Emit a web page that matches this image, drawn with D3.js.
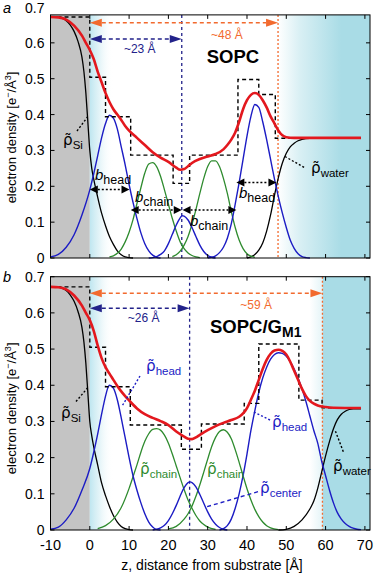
<!DOCTYPE html>
<html><head><meta charset="utf-8">
<script src="https://cdn.jsdelivr.net/npm/d3@7"></script>
<style>body{margin:0;background:#fff}svg{display:block}text{font-family:"Liberation Sans",Arial,Helvetica,sans-serif}</style>
</head><body><svg id="c" width="375" height="573"></svg>
<script>
// ---------- axes ----------
const X_TICKS = [-10, 0, 10, 20, 30, 40, 50, 60, 70];
const X_TICK_LABELS = ["-10", "0", "10", "20", "30", "40", "50", "60", "70"];
const Y_TICKS = [0, 0.1, 0.2, 0.3, 0.4, 0.5, 0.6, 0.7];
const Y_TICK_LABELS = ["0", "0.1", "0.2", "0.3", "0.4", "0.5", "0.6", "0.7"];

// ---------- panel a (SOPC) : [z, density] ----------
const A_SI = [[-10,0.672],[-8,0.671],[-7,0.668],[-6,0.662],[-5,0.65],[-4,0.632],[-3,0.604],[-2,0.56],[-1.5,0.52],[-1,0.46],[-0.5,0.38],[0,0.3],[0.5,0.25],[1,0.22],[2,0.17],[3,0.125],[4,0.09],[5,0.06],[6,0.038],[7,0.02],[8,0.009],[9,0.003],[10,0.001],[11,0]];
const A_WATER = [[40,0],[41,0.003],[42,0.01],[43,0.022],[44,0.042],[45,0.075],[46,0.12],[47,0.175],[48,0.225],[49,0.265],[50,0.292],[51,0.31],[52,0.32],[53,0.327],[54,0.331],[56,0.334],[69,0.335]];
const A_HEAD1 = [[-10,0.003],[-8,0.01],[-6,0.03],[-4,0.065],[-2,0.12],[0,0.19],[1,0.235],[2,0.285],[3,0.335],[4,0.375],[5,0.398],[6,0.39],[7,0.36],[8,0.31],[9,0.26],[10,0.205],[11,0.155],[12,0.11],[13,0.07],[14,0.04],[15,0.02],[16,0.008],[17,0.002],[18,0]];
const A_HEAD2 = [[30,0],[31,0.002],[32,0.006],[33,0.015],[34,0.03],[35,0.055],[36,0.095],[37,0.15],[38,0.21],[39,0.275],[40,0.34],[41,0.395],[42,0.428],[43,0.42],[44,0.38],[45,0.33],[46,0.275],[47,0.22],[48,0.17],[49,0.125],[50,0.085],[51,0.05],[52,0.027],[53,0.012],[54,0.004],[55,0.001],[56,0]];
const A_CENTER = [[15,0],[16,0.001],[17,0.004],[18,0.01],[19,0.02],[20,0.04],[21,0.066],[22,0.092],[23,0.112],[23.5,0.118],[24,0.117],[25,0.106],[26,0.085],[27,0.06],[28,0.036],[29,0.018],[30,0.007],[31,0.002],[32,0]];
const A_CHAIN1 = [[5,0.003],[6,0.006],[7,0.013],[8,0.025],[9,0.045],[10,0.072],[11,0.107],[12,0.152],[13,0.196],[14,0.237],[15,0.262],[16,0.266],[17,0.255],[18,0.228],[19,0.19],[20,0.15],[21,0.11],[22,0.075],[23,0.045],[24,0.026],[25,0.014],[26,0.007],[27,0.003],[28,0.001]];
const A_CHAIN2 = [[21,0.004],[22,0.009],[23,0.019],[24,0.036],[25,0.06],[26,0.094],[27,0.135],[28,0.18],[29,0.222],[30,0.255],[31,0.271],[32,0.271],[33,0.255],[34,0.222],[35,0.18],[36,0.13],[37,0.085],[38,0.05],[39,0.026],[40,0.012],[41,0.005],[42,0.002]];
const A_TOTAL = [[-10,0.672],[-8,0.671],[-6,0.665],[-4,0.648],[-2,0.62],[-1,0.60],[0,0.58],[1,0.555],[2,0.52],[3,0.49],[4,0.46],[5,0.435],[6,0.415],[7,0.40],[8,0.385],[9,0.368],[10,0.355],[12,0.335],[14,0.315],[16,0.295],[18,0.28],[20,0.268],[22,0.252],[23,0.246],[24,0.248],[25,0.256],[26,0.265],[28,0.276],[30,0.283],[32,0.29],[34,0.303],[35,0.315],[36,0.33],[37,0.35],[38,0.38],[39,0.415],[40,0.44],[41,0.455],[42,0.46],[43,0.455],[44,0.44],[45,0.42],[46,0.395],[47,0.375],[48,0.355],[49,0.342],[50,0.337],[52,0.335],[69,0.335]];
const A_STEP = [[-10,0.672],[0,0.504],[4,0.394],[10.4,0.287],[21.2,0.208],[25.4,0.287],[37.7,0.498],[43,0.456],[47.2,0.334],[69,0.334]];
const A_CENTER_Z = 23.4, A_EDGE_Z = 47.9;

// ---------- panel b (SOPC/GM1) ----------
const B_SI = [[-10,0.672],[-8,0.671],[-7,0.668],[-6,0.662],[-5,0.65],[-4,0.632],[-3,0.604],[-2,0.56],[-1.5,0.52],[-1,0.46],[-0.5,0.38],[0,0.3],[0.5,0.26],[1,0.23],[2,0.18],[3,0.13],[4,0.095],[5,0.065],[6,0.04],[7,0.022],[8,0.01],[9,0.004],[10,0.001],[11,0]];
const B_WATER = [[48,0],[50,0.002],[52,0.01],[54,0.028],[56,0.058],[57,0.08],[58,0.115],[59,0.16],[60,0.205],[61,0.245],[62,0.28],[63,0.305],[64,0.32],[65,0.328],[66,0.333],[67,0.335],[69,0.335]];
const B_HEAD1 = [[-10,0.002],[-8,0.008],[-6,0.028],[-4,0.06],[-2,0.11],[0,0.17],[1,0.215],[2,0.265],[3,0.32],[4,0.37],[4.5,0.39],[5,0.40],[6,0.392],[7,0.36],[8,0.31],[9,0.255],[10,0.2],[11,0.15],[12,0.11],[13,0.075],[14,0.045],[15,0.022],[16,0.008],[17,0.001],[18,0]];
const B_HEAD2 = [[33,0],[34,0.004],[35,0.012],[36,0.03],[37,0.06],[38,0.1],[39,0.15],[40,0.21],[41,0.275],[42,0.33],[43,0.38],[44,0.42],[45,0.45],[46,0.472],[47,0.485],[48,0.49],[49,0.488],[50,0.48],[51,0.465],[52,0.445],[53,0.42],[54,0.39],[55,0.355],[56,0.315],[57,0.275],[58,0.24],[59,0.19],[60,0.15],[61,0.11],[62,0.075],[63,0.048],[64,0.03],[65,0.018],[66,0.01],[67,0.005],[68,0.002],[69,0.001]];
const B_CENTER = [[16,0],[17,0.002],[18,0.006],[19,0.013],[20,0.026],[21,0.045],[22,0.068],[23,0.094],[24,0.117],[25,0.131],[25.5,0.133],[26,0.131],[27,0.119],[28,0.098],[29,0.074],[30,0.05],[31,0.03],[32,0.016],[33,0.007],[34,0.002],[35,0]];
const B_CHAIN1 = [[2,0.004],[4,0.012],[6,0.03],[8,0.062],[10,0.115],[11,0.147],[12,0.18],[13,0.215],[14,0.245],[15,0.266],[16,0.278],[17,0.28],[18,0.276],[19,0.262],[20,0.24],[21,0.21],[22,0.177],[23,0.144],[24,0.112],[25,0.083],[26,0.06],[27,0.04],[28,0.025],[29,0.015],[30,0.008],[32,0.002]];
const B_CHAIN2 = [[20,0.003],[22,0.01],[24,0.03],[25,0.045],[26,0.066],[27,0.093],[28,0.125],[29,0.16],[30,0.196],[31,0.23],[32,0.256],[33,0.272],[34,0.277],[35,0.27],[36,0.252],[37,0.222],[38,0.187],[39,0.15],[40,0.114],[41,0.083],[42,0.057],[43,0.037],[44,0.022],[45,0.012],[46,0.006],[48,0.001]];
const B_TOTAL = [[-10,0.672],[-8,0.671],[-6,0.665],[-4,0.648],[-2,0.62],[-1,0.60],[0,0.58],[1,0.55],[2,0.51],[3,0.475],[4,0.45],[5,0.432],[6,0.415],[7,0.398],[8,0.383],[9,0.37],[10,0.358],[12,0.336],[14,0.32],[16,0.31],[18,0.301],[20,0.29],[22,0.272],[24,0.258],[25,0.252],[26,0.251],[27,0.256],[28,0.263],[30,0.276],[32,0.287],[34,0.296],[36,0.304],[38,0.313],[39,0.322],[40,0.337],[41,0.36],[42,0.385],[43,0.415],[44,0.445],[45,0.47],[46,0.487],[47,0.496],[48,0.498],[49,0.495],[50,0.485],[51,0.465],[52,0.44],[53,0.415],[54,0.39],[55,0.37],[56,0.357],[57,0.349],[58,0.344],[60,0.34],[62,0.338],[69,0.337]];
const B_STEP = [[-10,0.672],[0,0.505],[4,0.396],[10.3,0.29],[23.3,0.223],[28.4,0.293],[39.3,0.35],[43,0.514],[53.2,0.359],[59.1,0.338],[69,0.338]];
const B_CENTER_Z = 25.4, B_EDGE_Z = 59.2;

// ---------- drawing ----------
const svg = d3.select("#c");
const defs = svg.append("defs");
const x = d3.scaleLinear().domain([-10, 71.3]).range([50.5, 370]);
const C = {red:"#e3181e", blue:"#1c1cc4", green:"#2e8b2e", navy:"#22228a", orange:"#f26a2e", water:"#a9dce6", gray:"#c4c4c4"};

function grad(id, x1, x2, stops) {
  const lg = defs.append("linearGradient").attr("id", id).attr("gradientUnits", "userSpaceOnUse")
    .attr("x1", x1).attr("x2", x2).attr("y1", 0).attr("y2", 0);
  stops.forEach(s => lg.append("stop").attr("offset", s[0]).attr("stop-color", s[1]).attr("stop-opacity", s[2]));
}
function arrowHead(g, tipX, yy, dir, len, half, color) {
  g.append("path").attr("d", `M${tipX},${yy} L${tipX - dir*len},${yy-half} L${tipX - dir*len},${yy+half} Z`).attr("fill", color);
}
function dblArrow(g, x1, x2, yy, color, dash, len, half, w) {
  g.append("line").attr("x1", x1 + len).attr("x2", x2 - len).attr("y1", yy).attr("y2", yy)
    .attr("stroke", color).attr("stroke-width", w).attr("stroke-dasharray", dash);
  arrowHead(g, x1, yy, -1, len, half, color);
  arrowHead(g, x2, yy, 1, len, half, color);
}
// rho with combining tilde and subscript, one text element
function rho(g, px, py, sub, color, size) {
  const t = g.append("text").attr("x", px).attr("y", py).attr("fill", color).attr("font-size", size);
  t.append("tspan").attr("font-family", "'DejaVu Sans', sans-serif").attr("font-size", size * 0.95).text("ρ\u0303");
  t.append("tspan").attr("font-size", size*0.72).attr("dy", size*0.25).text(sub);
}
function bLabel(g, px, py, sub) {
  const t = g.append("text").attr("x", px).attr("y", py).attr("font-size", 15);
  t.append("tspan").attr("font-style", "italic").text("b");
  t.append("tspan").attr("font-size", 12.5).attr("dy", 3.5).text(sub);
}
function leader(g, pts, color, dash) {
  g.append("path").attr("d", d3.line()(pts)).attr("fill", "none").attr("stroke", color)
    .attr("stroke-width", 1.4).attr("stroke-dasharray", dash);
}

function panel(o) {
  const y = d3.scaleLinear().domain([0, 0.7]).range([o.y0, o.y7]);
  const T = y(o.ymax), B = y(0), L = x(-10), R = x(71.3);
  const g = svg.append("g");
  const line = d3.line().x(d => x(d[0])).y(d => y(d[1])).curve(d3.curveMonotoneX);
  const step = d3.line().x(d => x(d[0])).y(d => y(d[1])).curve(d3.curveStepAfter);

  g.append("rect").attr("x", L).attr("y", T).attr("width", x(0) - L).attr("height", B - T).attr("fill", C.gray);
  grad("lg" + o.id, x(0), x(6), [[0, "#bfe6f0", 1], [0.4, "#dcf1f6", 0.8], [1, "#ffffff", 0]]);
  g.append("rect").attr("x", x(0)).attr("y", T).attr("width", x(6) - x(0)).attr("height", B - T).attr("fill", `url(#lg${o.id})`);
  grad("wg" + o.id, x(o.waterFrom), x(o.waterFull), o.waterStops);
  g.append("rect").attr("x", x(o.waterFrom)).attr("y", T).attr("width", R - x(o.waterFrom)).attr("height", B - T).attr("fill", `url(#wg${o.id})`);

  g.append("line").attr("x1", x(o.centerZ)).attr("x2", x(o.centerZ)).attr("y1", T).attr("y2", B)
    .attr("stroke", C.navy).attr("stroke-width", 1.3).attr("stroke-dasharray", "3,3");
  g.append("line").attr("x1", x(o.edgeZ)).attr("x2", x(o.edgeZ)).attr("y1", T).attr("y2", B)
    .attr("stroke", C.orange).attr("stroke-width", 1.3).attr("stroke-dasharray", "2,2");

  const curves = [[o.si, "#000", 1.3], [o.water, "#000", 1.3], [o.chain1, C.green, 1.3], [o.chain2, C.green, 1.3],
    [o.head1, C.blue, 1.4], [o.head2, C.blue, 1.4], [o.center, C.blue, 1.4]];
  curves.forEach(c => g.append("path").attr("d", line(c[0])).attr("fill", "none").attr("stroke", c[1]).attr("stroke-width", c[2]));
  g.append("path").attr("d", step(o.step)).attr("fill", "none").attr("stroke", "#000").attr("stroke-width", 1.4).attr("stroke-dasharray", "4,3");
  g.append("path").attr("d", line(o.total)).attr("fill", "none").attr("stroke", C.red).attr("stroke-width", 2.6);

  g.append("rect").attr("x", L).attr("y", T).attr("width", R - L).attr("height", B - T).attr("fill", "none").attr("stroke", "#000").attr("stroke-width", 1);
  X_TICKS.forEach(v => {
    g.append("line").attr("x1", x(v)).attr("x2", x(v)).attr("y1", B).attr("y2", B - 4).attr("stroke", "#000");
    g.append("line").attr("x1", x(v)).attr("x2", x(v)).attr("y1", T).attr("y2", T + 4).attr("stroke", "#000");
  });
  Y_TICKS.forEach((v, i) => {
    if (y(v) >= T - 0.5) {
      g.append("line").attr("x1", L).attr("x2", L + 4).attr("y1", y(v)).attr("y2", y(v)).attr("stroke", "#000");
      g.append("line").attr("x1", R).attr("x2", R - 4).attr("y1", y(v)).attr("y2", y(v)).attr("stroke", "#000");
    }
    g.append("text").attr("x", L - 6).attr("y", Math.max(y(v) + 5, 12.5)).attr("text-anchor", "end").attr("font-size", 14).text(Y_TICK_LABELS[i]);
  });
  if (o.xLabels) {
    X_TICKS.forEach((v, i) => g.append("text").attr("x", x(v)).attr("y", B + 20).attr("text-anchor", "middle").attr("font-size", 14.5).text(X_TICK_LABELS[i]));
  }
  g.append("text").attr("transform", `translate(16,${(o.y0 + o.y7) / 2 + 5}) rotate(-90)`).attr("text-anchor", "middle").attr("font-size", 13)
    .html('electron density [e<tspan dy="-5" font-size="9">−</tspan><tspan dy="5">/Å</tspan><tspan dy="-5" font-size="9">3</tspan><tspan dy="5">]</tspan>');
  g.append("text").attr("x", 3).attr("y", Math.max(o.y7 + 5, 12.5)).attr("font-size", 14.5).attr("font-style", "italic").text(o.id);

  dblArrow(g, x(0), x(o.edgeZ), o.arrowY1, C.orange, "4,3", 12, 4, 1.5);
  dblArrow(g, x(0), x(o.centerZ), o.arrowY2, C.navy, "4,3", 12, 4, 1.5);
  g.append("text").attr("x", (x(o.edgeZ) + x(0)) / 2 + o.lab1dx).attr("y", o.arrowY1 + 16).attr("text-anchor", "middle").attr("font-size", 12).attr("fill", C.orange).text(o.lab1);
  g.append("text").attr("x", (x(o.centerZ) + x(0)) / 2 + 4).attr("y", o.arrowY2 + 14).attr("text-anchor", "middle").attr("font-size", 12).attr("fill", C.navy).text(o.lab2);
  return {g, y};
}

const pa = panel({id: "a", y0: 258, y7: 7, ymax: 0.678, si: A_SI, water: A_WATER, head1: A_HEAD1, head2: A_HEAD2, center: A_CENTER,
  chain1: A_CHAIN1, chain2: A_CHAIN2, total: A_TOTAL, step: A_STEP, centerZ: A_CENTER_Z, edgeZ: A_EDGE_Z,
  waterFrom: A_EDGE_Z, waterFull: 64, waterStops: [[0, C.water, 0], [0.35, C.water, 0.45], [1, C.water, 1]],
  arrowY1: 22.7, arrowY2: 39, lab1: "~48 Å", lab2: "~23 Å", lab1dx: 43, xLabels: false});
{
  const g = pa.g;
  g.append("text").attr("x", 233).attr("y", 63).attr("text-anchor", "middle").attr("font-size", 18.5).attr("font-weight", "bold").text("SOPC");
  rho(g, 63, 145, "Si", "#000", 16);
  leader(g, [[77, 131], [87.5, 117]], "#000", "2,2");
  rho(g, 311, 173, "water", "#000", 16);
  leader(g, [[285, 156.5], [305, 168]], "#000", "2,2");
  dblArrow(g, x(0), x(10.1), 189.5, "#000", "2,2", 8, 4, 1.5);
  bLabel(g, 95, 180, "head");
  dblArrow(g, x(10.4), x(23.4), 210, "#000", "2,2", 8, 4, 1.5);
  bLabel(g, 135, 202, "chain");
  dblArrow(g, x(23.6), x(37.3), 210, "#000", "2,2", 8, 4, 1.5);
  bLabel(g, 190, 226, "chain");
  dblArrow(g, x(37.3), x(47.5), 182.5, "#000", "2,2", 8, 4, 1.5);
  bLabel(g, 239, 198, "head");
}
const pb = panel({id: "b", y0: 530, y7: 276.7, ymax: 0.7, si: B_SI, water: B_WATER, head1: B_HEAD1, head2: B_HEAD2, center: B_CENTER,
  chain1: B_CHAIN1, chain2: B_CHAIN2, total: B_TOTAL, step: B_STEP, centerZ: B_CENTER_Z, edgeZ: B_EDGE_Z,
  waterFrom: 56, waterFull: 59.45, waterStops: [[0, C.water, 0], [0.9, C.water, 0.3], [1, C.water, 1]],
  arrowY1: 293.3, arrowY2: 308.3, lab1: "~59 Å", lab2: "~26 Å", lab1dx: 50, xLabels: true});
{
  const g = pb.g;
  const t = g.append("text").attr("x", 210).attr("y", 333).attr("font-size", 18.5).attr("font-weight", "bold");
  t.append("tspan").text("SOPC/G");
  t.append("tspan").attr("font-size", 14).attr("dy", 4).text("M1");
  rho(g, 61, 418, "Si", "#000", 16);
  leader(g, [[76, 401.5], [87.5, 388]], "#000", "2,2");
  rho(g, 146, 371, "head", C.blue, 16);
  leader(g, [[140, 376], [121.7, 406.7]], C.blue, "2,2");
  rho(g, 272, 427, "head", C.blue, 16);
  leader(g, [[270, 420], [253.3, 411.7]], C.blue, "2,2");
  rho(g, 140, 474, "chain", C.green, 16);
  rho(g, 207, 474, "chain", C.green, 16);
  rho(g, 260, 493, "center", C.blue, 16);
  leader(g, [[258, 491.7], [205, 507.3]], C.blue, "4,3");
  rho(g, 333, 471, "water", "#000", 16);
  leader(g, [[343.3, 451.7], [335, 430]], "#000", "2,2");
  g.append("text").attr("x", 212).attr("y", 570).attr("text-anchor", "middle").attr("font-size", 14).text("z, distance from substrate [Å]");
}
</script></body></html>
